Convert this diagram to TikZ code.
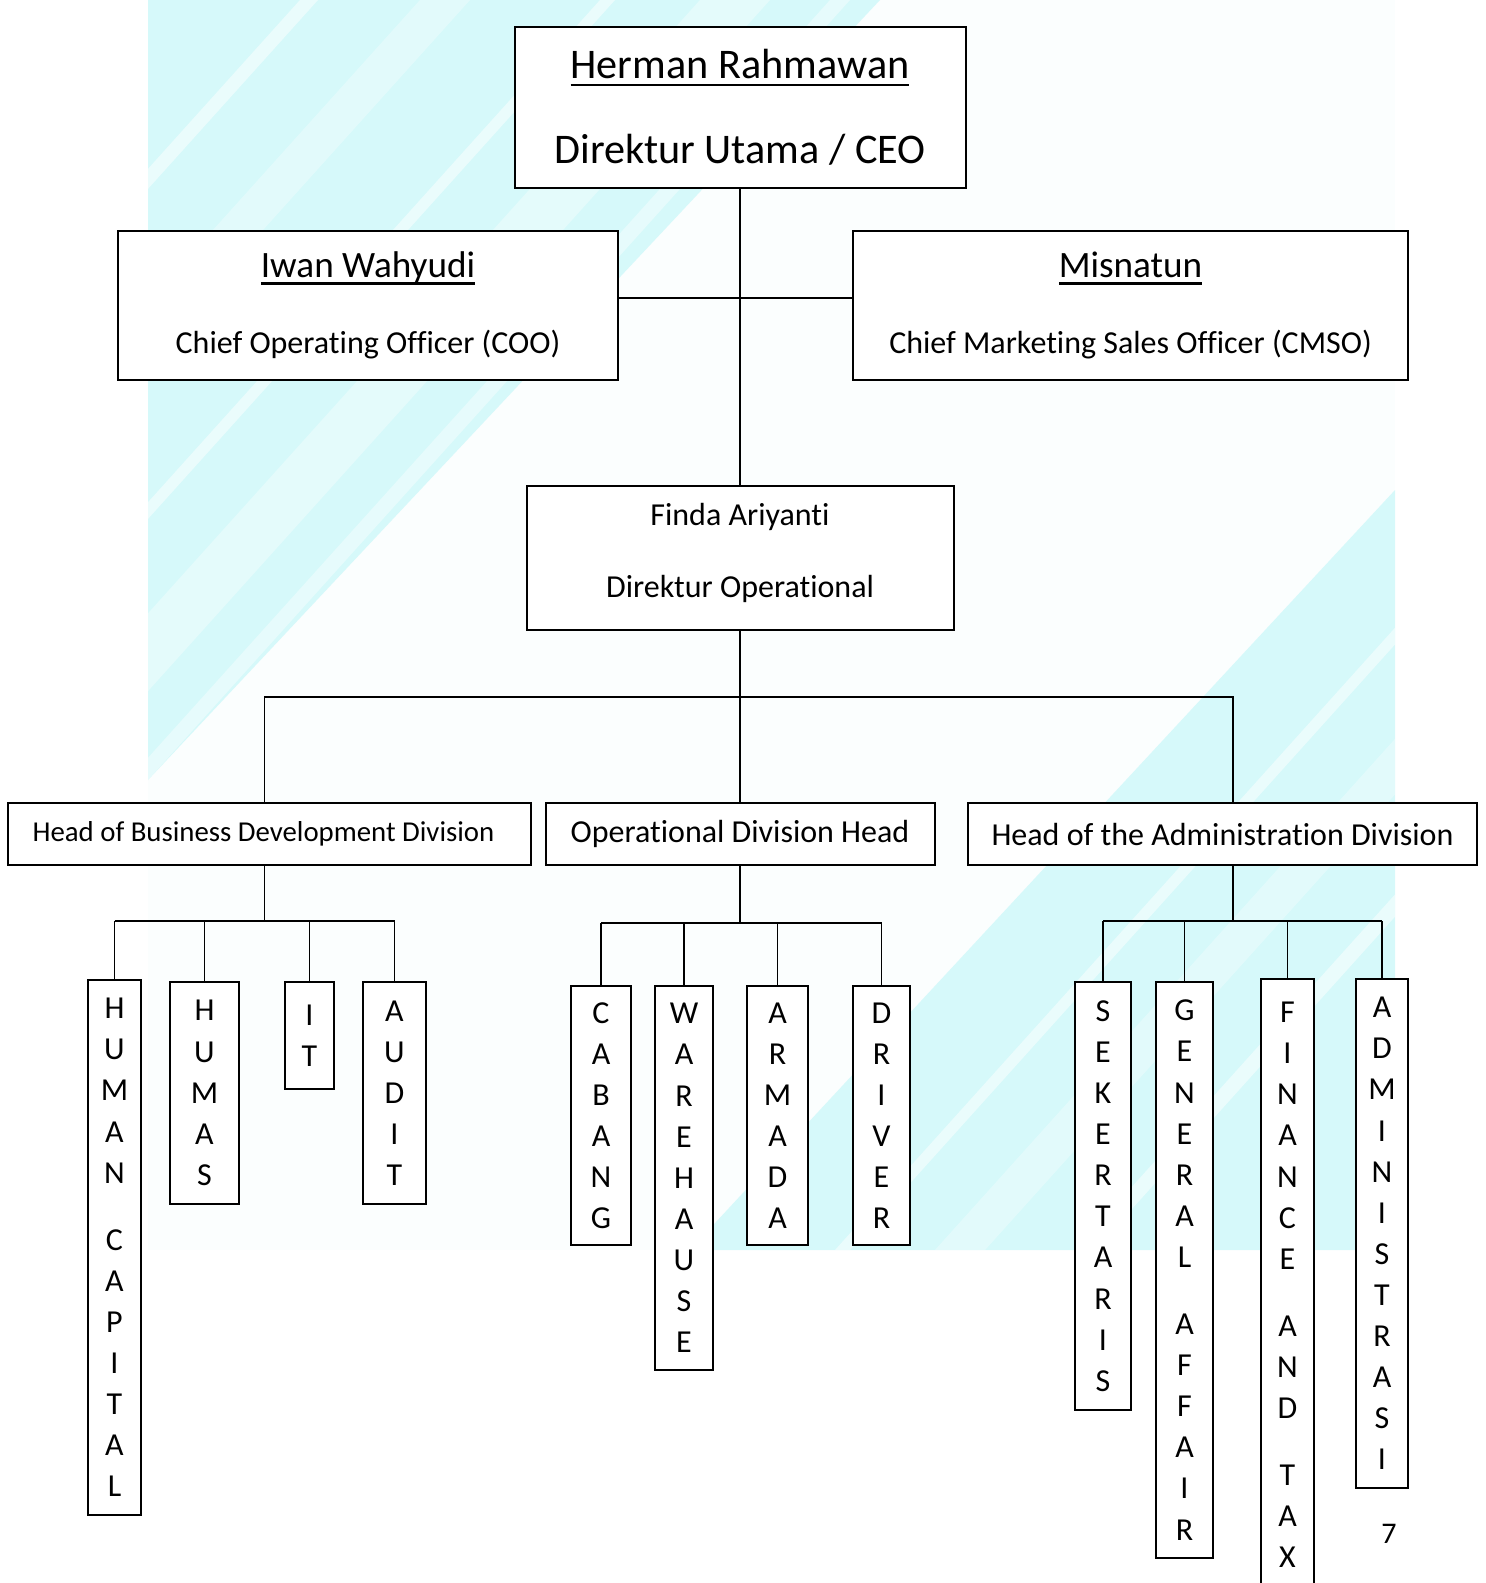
\documentclass[tikz,border=0pt]{standalone}
\usepackage{fontspec}
\setmainfont{Carlito}[Ligatures=NoCommon]
\usetikzlibrary{calc,positioning}
\newlength\namewd
\newcommand{\uname}[1]{\settowidth{\namewd}{#1}\rlap{\rule[-3.6pt]{\namewd}{1.2pt}}#1}
\definecolor{bgcyan}{RGB}{214,249,250}
\definecolor{bgpale}{RGB}{251,254,254}
\tikzset{
	box/.style={draw, line width=1pt, fill=white, inner sep=0pt, align=center},
	headbox/.style={box, minimum height=31pt, font=\fontsize{16}{19.2}\selectfont},
	unit/.style={box, anchor=north, font=\fontsize{16}{20.55}\selectfont},
	link/.style={line width=0.9pt},
}

\begin{document}
\begin{tikzpicture}[x=0.5pt, y=-0.5pt]
        \useasboundingbox (0,0) rectangle (1486,1583);
        \begin{scope}
            \clip (148,0) rectangle (1395,1250);
            \fill[bgpale] (148,0) rectangle (1395,1250);
            \fill[bgcyan] (148,0) -- (880,0) -- (148,780) -- cycle;
            \fill[bgcyan] (1395,490) -- (1395,1250) -- (690,1250) -- cycle;
            \foreach \a/\b/\o in {300/318/.5, 420/470/.3, 600/615/.5, 700/770/.35, 830/850/.4, 1960/1975/.5, 2060/2110/.3, 2200/2220/.5}
                \fill[white, opacity=\o] (\a,0) -- (\b,0) -- (\b-1125,1250) -- (\a-1125,1250) -- cycle;
        \end{scope}

        \node[box, minimum width=225.5pt, minimum height=80.5pt, font=\fontsize{21.1}{25.3}\selectfont] (ceo) at (740,107.5)
            {\uname{Herman Rahmawan}\\[17.2pt]Direktur Utama / CEO};
        \node[box, minimum width=250pt, minimum height=74.5pt, font=\fontsize{16}{19.2}\selectfont] (coo) at (368,305.5)
            {{\fontsize{18.6}{22.3}\selectfont\uname{Iwan Wahyudi}}\\[18.8pt]Chief Operating Officer (COO)};
        \node[box, minimum width=277.5pt, minimum height=74.5pt, font=\fontsize{16}{19.2}\selectfont] (cmso) at (1130.5,305.5)
            {{\fontsize{18.6}{22.3}\selectfont\uname{Misnatun}}\\[18.8pt]Chief Marketing Sales Officer (CMSO)};
        \node[box, minimum width=213.5pt, minimum height=72pt, text depth=7.5pt, font=\fontsize{16}{19.2}\selectfont] (fin) at (740,558)
            {Finda Ariyanti\\[16.8pt]Direktur Operational};

        \node[headbox, minimum width=261.5pt, font=\fontsize{14.4}{17}\selectfont] (bd) at (269.5,834) {Head of Business Development Division\hspace{6pt}};
        \node[headbox, minimum width=194.5pt] (ops) at (740,834) {Operational Division Head};
        \node[headbox, minimum width=254.5pt] (adm) at (1222.5,834) {Head of the Administration Division};

        \node[unit, minimum width=26.5pt, minimum height=267.5pt] (hc) at (114.5,979) {H\\U\\M\\A\\N\\[13pt]C\\A\\P\\I\\T\\A\\L};
        \node[unit, minimum width=34.5pt, minimum height=111pt] (hm) at (204.5,981) {H\\U\\M\\A\\S};
        \node[unit, minimum width=24.5pt, minimum height=53.5pt] (it) at (309.5,981) {I\\T};
        \node[unit, minimum width=31.5pt, minimum height=111pt] (au) at (394.5,981) {A\\U\\D\\I\\T};

        \node[unit, minimum width=30pt, minimum height=129.5pt] (cb) at (601,985) {C\\A\\B\\A\\N\\G};
        \node[unit, minimum width=29pt, minimum height=192pt] (wh) at (684,985) {W\\A\\R\\E\\H\\A\\U\\S\\E};
        \node[unit, minimum width=30.5pt, minimum height=129.5pt] (ar) at (777.5,985) {A\\R\\M\\A\\D\\A};
        \node[unit, minimum width=28.5pt, minimum height=129.5pt] (dr) at (881.5,985) {D\\R\\I\\V\\E\\R};

        \node[unit, minimum width=28pt, minimum height=214pt] (sk) at (1103,981) {S\\E\\K\\E\\R\\T\\A\\R\\I\\S};
        \node[unit, minimum width=28.5pt, minimum height=288pt] (ga) at (1184.5,981) {G\\E\\N\\E\\R\\A\\L\\[13pt]A\\F\\F\\A\\I\\R};
        \node[unit, minimum width=26.5pt, minimum height=306pt] (ft) at (1287.5,978) {F\\I\\N\\A\\N\\C\\E\\[13pt]A\\N\\D\\[13pt]T\\A\\X};
        \node[unit, minimum width=26pt, minimum height=254.5pt] (ad) at (1382,978) {A\\D\\M\\I\\N\\I\\S\\T\\R\\A\\S\\I};

        \node[font=\fontsize{15}{18}\selectfont] (pg) at (1389,1534) {7};

        \coordinate (bus) at (740,697);
        \coordinate (sbd) at (264.5,921);
        \coordinate (sop) at (740,923);
        \coordinate (sad) at (1233,921);

        \draw[link] (ceo.south) -- (fin.north);
        \draw[link] ([yshift=3.75pt]coo.east) -- ([yshift=3.75pt]coo.east -| cmso.west);
        \draw[link] (fin.south) -- (ops.north);
        \draw[link] ([xshift=-2.5pt]bd.north) |- (bus) -| ([xshift=5.25pt]adm.north);

        \draw[link] (bd.south -| sbd) -- (sbd);
        \draw[link] (hc.north |- sbd) -- (au.north |- sbd);
        \foreach \u in {hc,hm,it,au}
            \draw[link] (\u.north) -- (\u.north |- sbd);

        \draw[link] (ops.south) -- (sop);
        \draw[link] (cb.north |- sop) -- (dr.north |- sop);
        \foreach \u in {cb,wh,ar,dr}
            \draw[link] (\u.north) -- (\u.north |- sop);

        \draw[link] (adm.south -| sad) -- (sad);
        \draw[link] (sk.north |- sad) -- (ad.north |- sad);
        \foreach \u in {sk,ga,ft,ad}
            \draw[link] (\u.north) -- (\u.north |- sad);
    \end{tikzpicture}
\end{document}
